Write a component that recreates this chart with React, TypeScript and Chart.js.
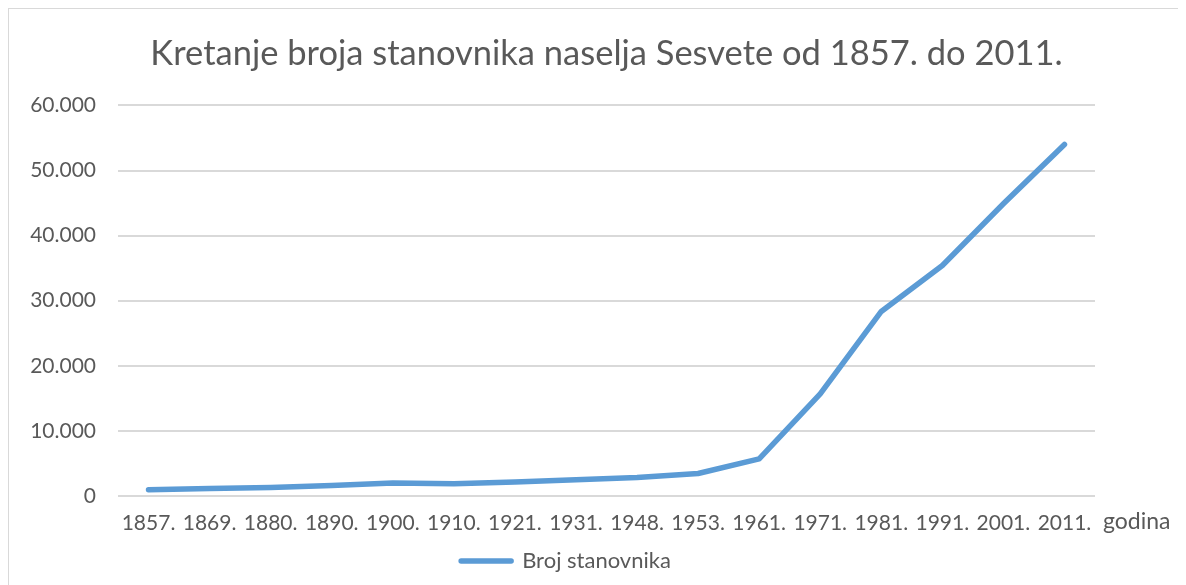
import React, { useEffect, useRef } from "react";
import { Chart, registerables } from "chart.js";

Chart.register(...registerables);

const categories = ["1857.", "1869.", "1880.", "1890.", "1900.", "1910.", "1921.", "1931.", "1948.", "1953.", "1961.", "1971.", "1981.", "1991.", "2001.", "2011."];
const population = [950, 1150, 1300, 1600, 2000, 1900, 2150, 2500, 2850, 3450, 5700, 15700, 28350, 35400, 44900, 54000];
const yTicks = [0, 10000, 20000, 30000, 40000, 50000, 60000];

const TEXT = "#595959";
const FONT = "Lato, 'Noto Sans', sans-serif";

const fmt = (v: number) => String(v).replace(/\B(?=(\d{3})+(?!\d))/g, ".");

const axisTitlePlugin = {
  id: "axisTitleRight",
  afterDraw(chart: any) {
    const { ctx, chartArea } = chart;
    ctx.save();
    ctx.font = `23px ${FONT}`;
    ctx.fillStyle = TEXT;
    ctx.textAlign = "left";
    ctx.textBaseline = "middle";
    ctx.fillText("godina", chartArea.right + 8, chartArea.bottom + 26);
    ctx.restore();
  },
};

export default function App() {
  const ref = useRef<HTMLCanvasElement | null>(null);
  useEffect(() => {
    if (!ref.current) return;
    const chart = new Chart(ref.current, {
      type: "line",
      data: {
        labels: categories,
        datasets: [
          {
            label: "Broj stanovnika",
            data: population,
            borderColor: "#5b9bd5",
            backgroundColor: "#5b9bd5",
            borderWidth: 5.5,
            pointRadius: 0,
            tension: 0,
            borderCapStyle: "round",
            borderJoinStyle: "round",
          },
        ],
      },
      options: {
        animation: false,
        responsive: true,
        maintainAspectRatio: false,
        layout: { padding: { left: 0, right: 63, top: 0, bottom: 3 } },
        plugins: {
          title: {
            display: true,
            fullSize: false,
            text: "Kretanje broja stanovnika naselja Sesvete od 1857. do 2011.",
            color: TEXT,
            font: { family: FONT, size: 34.5, weight: "normal" },
            padding: { top: 24, bottom: 31 },
          },
          legend: {
            display: true,
            position: "bottom",
            labels: {
              color: TEXT,
              font: { family: FONT, size: 22 },
              boxWidth: 50,
              boxHeight: 0,
              padding: 4,
            },
          },
          tooltip: { enabled: false },
        },
        scales: {
          x: {
            offset: true,
            grid: { display: false, drawTicks: false },
            border: { display: false },
            ticks: { color: TEXT, font: { family: FONT, size: 21 }, padding: 15, maxRotation: 0, autoSkip: false },
            afterFit: (s: any) => {
              s.height = 50;
            },
          },
          y: {
            min: 0,
            max: 60000,
            afterBuildTicks: (s: any) => {
              s.ticks = yTicks.map((v) => ({ value: v }));
            },
            afterFit: (s: any) => {
              s.width = 109;
            },
            grid: { color: "#d9d9d9", lineWidth: 2, drawTicks: false },
            border: { display: false },
            ticks: { color: TEXT, font: { family: FONT, size: 21 }, padding: 22, callback: (v: any) => fmt(Number(v)) },
          },
          spacer: {
            type: "linear",
            position: "right",
            display: true,
            grid: { display: false, drawTicks: false },
            border: { display: false },
            ticks: { display: false },
            afterFit: (s: any) => {
              s.width = 28;
            },
          },
        },
      },
      plugins: [axisTitlePlugin],
    });
    return () => chart.destroy();
  }, []);
  return (
    <div
      style={{
        width: 1177,
        height: 576,
        borderTop: "1px solid #d9d9d9",
        borderLeft: "1px solid #d9d9d9",
        position: "relative",
        background: "#fff",
      }}
    >
      <canvas ref={ref} />
    </div>
  );
}
